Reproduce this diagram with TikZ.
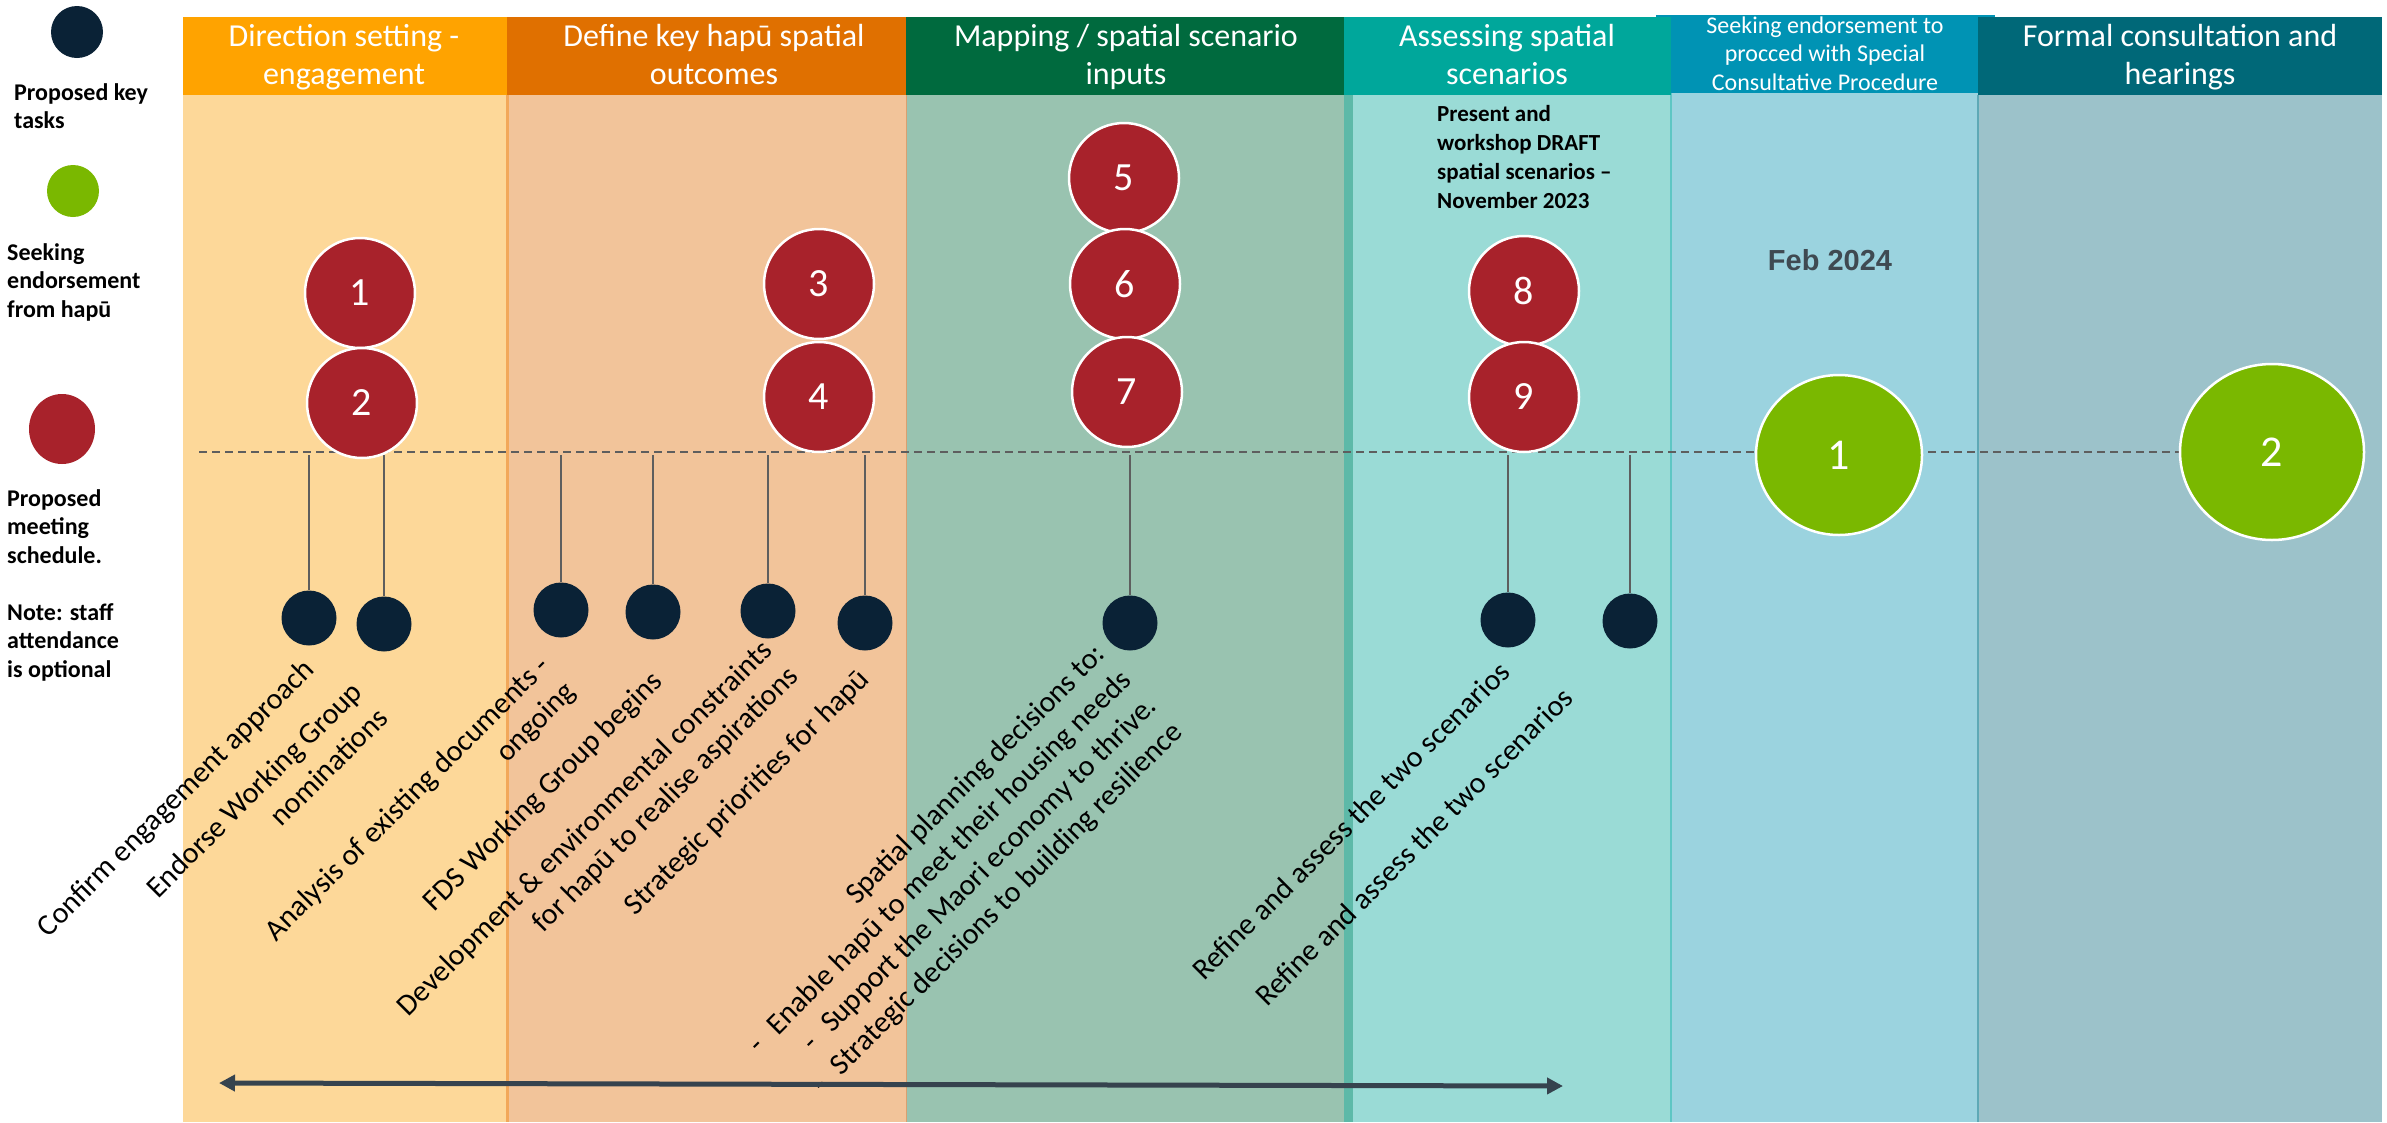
\documentclass[tikz,border=0pt]{standalone}
\usepackage{fontspec}
\setmainfont{Carlito}
\newfontfamily\arialfont{Liberation Sans}
\usetikzlibrary{arrows.meta,shapes.geometric}
\definecolor{cAh}{HTML}{FFA300}\definecolor{cAb}{HTML}{FDD899}
\definecolor{cBh}{HTML}{E07000}\definecolor{cBb}{HTML}{F2C49A}\definecolor{cBl}{HTML}{F2A85A}
\definecolor{cCh}{HTML}{006A3E}\definecolor{cCb}{HTML}{99C3B0}\definecolor{cCl}{HTML}{D9A070}
\definecolor{cDh}{HTML}{00A79B}\definecolor{cDb}{HTML}{9ADBD6}\definecolor{cDs}{HTML}{5DB9A8}
\definecolor{cEh}{HTML}{0093B4}\definecolor{cEb}{HTML}{9BD3DF}\definecolor{cEl}{HTML}{5EC6C4}
\definecolor{cFh}{HTML}{006878}\definecolor{cFb}{HTML}{9CC2CA}\definecolor{cFl}{HTML}{5EA9B6}
\definecolor{navy}{HTML}{0A2236}
\definecolor{meetred}{HTML}{A8222B}
\definecolor{hgreen}{HTML}{7AB800}
\definecolor{conngray}{HTML}{5E5E5E}
\definecolor{arrowgray}{HTML}{36434E}
\definecolor{febgray}{HTML}{3F4A52}
\begin{document}
\begin{tikzpicture}[x=1pt,y=-1pt,
  hdr/.style={text=white, align=center, inner sep=0, font=\fontsize{32}{38}\selectfont},
  hdrsmall/.style={text=white, align=center, inner sep=0, font=\fontsize{24}{28.5}\selectfont},
  legend/.style={anchor=north west, align=left, inner sep=0, font=\bfseries\fontsize{24}{28.5}\selectfont},
  meet/.style={circle, fill=meetred, draw=white, line width=2.5pt, minimum size=110pt, inner sep=0, text=white, font=\fontsize{40}{48}\selectfont},
  taskdot/.style={circle, fill=navy, minimum size=55pt, inner sep=0},
  endorse/.style={ellipse, fill=hgreen, draw=white, line width=2.5pt, inner sep=0, text=white, font=\fontsize{44}{52}\selectfont},
  diag/.style={rotate=45, anchor=north east, align=right, inner sep=0, font=\fontsize{30}{36.5}\selectfont},
  conn/.style={draw=conngray, line width=2pt},
  timeline/.style={draw=conngray, line width=2pt, dash pattern=on 8pt off 5pt}
]
\useasboundingbox (0,0) rectangle (2387,1122);
\fill[white] (0,0) rectangle (2387,1122);
% column bodies
\fill[cAb] (183,95) rectangle (507,1122);
\fill[cBb] (507,95) rectangle (906,1122);
\fill[cCb] (906,95) rectangle (1344,1122);
\fill[cDb] (1344,95) rectangle (1671,1122);
\fill[cDs] (1344,95) rectangle (1353,1122);
\fill[cEb] (1671,93) rectangle (1978,1122);
\fill[cFb] (1978,95) rectangle (2382,1122);
\draw[cBl, line width=3pt] (507,95) -- (507,1122);
\draw[cCl, line width=1pt] (906,95) -- (906,1122);
\draw[cEl, line width=1.5pt] (1671,93) -- (1671,1122);
\draw[cFl, line width=1.5pt] (1978,95) -- (1978,1122);
% column headers
\fill[cEh] (1656,15) rectangle (1995,93);
\fill[cAh] (183,17) rectangle (507,95);
\fill[cBh] (507,17) rectangle (906,95);
\fill[cCh] (906,17) rectangle (1344,95);
\fill[cDh] (1344,17) rectangle (1671,95);
\fill[cFh] (1978,17) rectangle (2382,95);
\node[hdr] (h1) at (344,58) {\strut Direction setting -\\\strut engagement};
\node[hdr] (h2) at (714,58) {\strut Define key hapū spatial\\\strut outcomes};
\node[hdr] (h3) at (1126,58) {\strut Mapping / spatial scenario\\\strut inputs};
\node[hdr] (h4) at (1507,58) {\strut Assessing spatial\\\strut scenarios};
\node[hdrsmall] (h5) at (1825,56) {\strut Seeking endorsement to\\\strut procced with Special\\\strut Consultative Procedure};
\node[hdr] (h6) at (2180,58) {\strut Formal consultation and\\\strut hearings};
% legend
\node[circle, fill=navy, minimum size=52pt, inner sep=0] (lk) at (77,32) {};
\node[legend] (lkt) at (14,80) {\strut Proposed key\\\strut tasks};
\node[circle, fill=hgreen, minimum size=52pt, inner sep=0] (lg) at (73,191) {};
\node[legend] (lgt) at (7,240) {\strut Seeking\\\strut endorsement\\\strut from hapū};
\node[ellipse, fill=meetred, minimum width=66pt, minimum height=70pt, inner sep=0] (lr) at (62,429) {};
\node[legend] (lrt) at (7,486) {\strut Proposed\\\strut meeting\\\strut schedule.\\\strut\\\strut Note: staff\\\strut attendance\\\strut is optional};
% timeline
\coordinate (tlA) at (199,452);
\coordinate (tlB) at (2280,452);
\draw[timeline] (tlA) -- (tlB);
% task dots and connectors
\foreach \n/\x/\y in {1/309/618, 2/384/624, 3/561/610, 4/653/612, 5/768/611, 6/865/623, 7/1130/623, 8/1508/620, 9/1630/621}{
  \coordinate (t\n) at (\x,455);
  \node[taskdot] (d\n) at (\x,\y) {};
  \draw[conn] (t\n) -- (d\n);
}
% meetings
\node[meet] (m1) at (360,293) {1};
\node[meet] (m2) at (362,403) {2};
\node[meet] (m3) at (819,284) {3};
\node[meet] (m4) at (819,397) {4};
\node[meet] (m5) at (1124,178) {5};
\node[meet] (m6) at (1125,284) {6};
\node[meet] (m7) at (1127,392) {7};
\node[meet] (m8) at (1524,291) {8};
\node[meet] (m9) at (1524,397) {9};
% endorsements
\node[endorse, minimum width=166pt, minimum height=160pt] (g1) at (1839,455) {1};
\node[endorse, minimum width=184pt, minimum height=176pt] (g2) at (2272,452) {2};
% notes
\node[anchor=north west, align=left, inner sep=0, font=\bfseries\fontsize{23}{29}\selectfont] (pres) at (1437,101) {\strut Present and\\\strut workshop DRAFT\\\strut spatial scenarios –\\\strut November 2023};
\node[text=febgray, inner sep=0, font=\arialfont\bfseries\fontsize{29}{34}\selectfont] (feb) at (1830,260) {Feb 2024};
% diagonal task labels
\node[diag] (l1) at (301,656) {Confirm engagement approach};
\node[diag] (l2) at (349,679) {Endorse Working Group\\nominations};
\node[diag] (l3) at (536,653) {Analysis of existing documents -\\ongoing};
\node[diag] (l4) at (649,668) {FDS Working Group begins};
\node[diag] (l5) at (759,637) {Development \& environmental constraints\\for hapū to realise aspirations};
\node[diag] (l6) at (856,666) {Strategic priorities for hapū};
\node[diag] (l7) at (1092,641) {Spatial planning decisions to:\\-\hspace{17pt}Enable hapū to meet their housing needs\\-\hspace{17pt}Support the Maori economy to thrive.\\-\hspace{17pt}Strategic decisions to building resilience};
\node[diag] (l8) at (1497,659) {Refine and assess the two scenarios};
\node[diag] (l9) at (1560,685) {Refine and assess the two scenarios};
% bottom double arrow
\coordinate (arL) at (219,1083);
\coordinate (arR) at (1563,1086);
\draw[arrowgray, line width=5pt, {Triangle[length=16pt,width=16pt]}-{Triangle[length=16pt,width=16pt]}] (arL) -- (arR);
\end{tikzpicture}
\end{document}
